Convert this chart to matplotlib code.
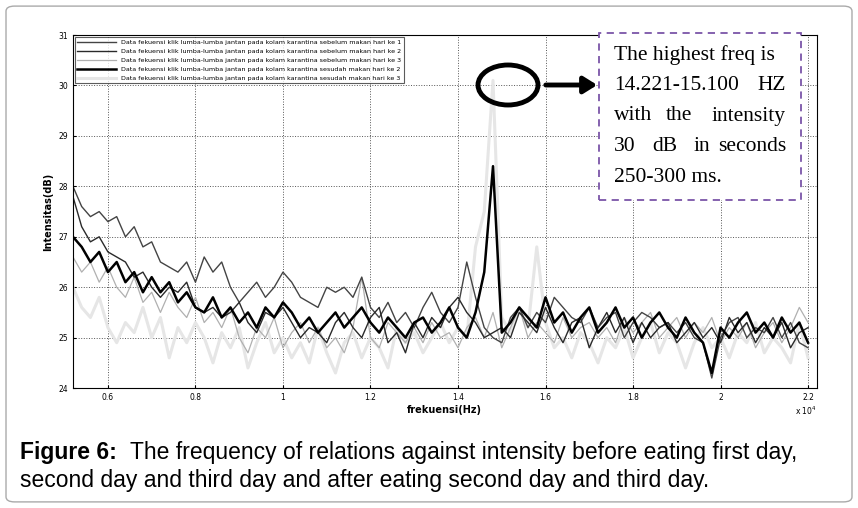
import numpy as np
import matplotlib
matplotlib.use("Agg")
import matplotlib.pyplot as plt
from matplotlib.patches import Ellipse, FancyBboxPatch, Rectangle

# frequency axis (x 10^4 Hz), step 0.02
freq = np.round(np.arange(0.52, 2.2001, 0.02), 2)

sebelum1 = [28.0,27.6,27.4,27.5,27.3,27.4,27.0,27.2,26.8,26.9,
            26.5,26.4,26.3,26.5,26.1,26.6,26.3,26.5,26.0,25.7,
            25.9,26.1,25.8,26.0,26.3,26.1,25.8,25.7,25.6,26.0,
            25.9,26.0,25.8,26.2,25.6,25.4,25.7,25.3,25.5,25.2,
            25.6,25.9,25.5,25.3,25.6,26.5,25.8,25.2,25.0,24.9,
            25.4,25.6,25.2,25.5,25.3,25.8,25.6,25.4,25.3,25.6,
            25.2,25.4,25.5,25.0,25.3,25.5,25.4,25.2,25.3,25.1,
            25.3,25.0,24.9,24.2,25.0,25.3,25.4,25.0,25.2,25.1,
            25.4,25.0,25.3,24.9,24.8]
sebelum2 = [27.8,27.2,26.9,27.0,26.7,26.6,26.5,26.2,26.3,26.0,
            25.8,26.0,25.9,26.1,25.6,25.5,25.6,25.4,25.5,25.7,
            25.3,25.1,25.5,25.4,25.6,25.3,25.0,25.2,25.1,24.9,
            25.3,25.5,25.2,25.0,25.4,25.6,24.9,25.1,24.7,25.3,
            25.0,25.4,25.2,25.6,25.8,25.5,25.3,25.0,25.1,25.2,
            25.0,25.5,25.3,25.1,25.6,25.2,24.9,25.3,25.4,24.8,
            25.2,25.5,25.1,25.4,24.9,25.3,25.0,25.2,25.3,24.9,
            25.1,25.3,25.0,25.2,24.9,25.4,25.1,25.3,24.9,25.2,
            25.0,25.3,24.8,25.1,25.2]
sebelum3 = [26.6,26.3,26.5,26.1,26.4,26.0,25.8,26.2,25.7,25.9,
            25.5,25.9,25.6,25.4,25.8,25.3,25.5,25.2,25.6,25.0,
            24.7,25.2,25.0,25.4,24.8,25.1,25.3,24.9,25.2,24.8,
            25.0,24.7,25.2,26.2,25.0,24.8,25.3,25.1,24.9,25.2,
            24.9,25.3,25.0,25.1,24.8,25.2,25.4,25.0,25.5,24.8,
            25.2,25.6,25.0,25.3,25.1,24.9,25.4,25.0,25.2,25.3,
            25.0,25.2,24.9,25.4,25.1,25.3,25.5,25.0,25.2,25.4,
            25.0,25.3,25.1,25.4,24.9,25.2,25.0,25.3,24.8,25.1,
            25.3,24.9,25.2,25.6,25.3]
sesudah2 = [27.0,26.8,26.5,26.7,26.3,26.5,26.1,26.3,25.9,26.2,
            25.9,26.1,25.7,25.9,25.6,25.5,25.8,25.4,25.6,25.3,
            25.5,25.2,25.6,25.4,25.7,25.5,25.2,25.4,25.1,25.3,
            25.5,25.2,25.4,25.6,25.3,25.1,25.4,25.2,25.0,25.3,
            25.4,25.1,25.3,25.6,25.2,25.0,25.5,26.3,28.4,25.1,
            25.3,25.6,25.4,25.2,25.8,25.3,25.5,25.1,25.4,25.6,
            25.1,25.3,25.6,25.2,25.4,25.0,25.3,25.5,25.2,25.0,
            25.4,25.1,24.9,24.3,25.2,25.0,25.3,25.5,25.1,25.3,
            25.0,25.4,25.1,25.3,24.9]
sesudah3 = [26.0,25.6,25.4,25.8,25.2,24.9,25.3,25.1,25.6,25.0,
            25.4,24.6,25.2,24.9,25.3,25.0,24.5,25.1,24.8,25.2,
            24.4,24.9,25.3,24.7,25.0,24.6,24.9,24.5,25.2,24.7,
            24.3,24.9,25.1,24.6,25.0,24.8,24.4,25.2,24.9,25.1,
            24.7,25.0,25.3,24.9,25.2,25.0,26.8,27.5,30.1,25.4,
            25.1,25.6,25.2,26.8,25.3,24.8,25.0,24.6,25.1,24.9,
            24.5,25.0,24.8,25.2,24.6,25.0,25.3,24.7,25.1,24.9,
            24.4,24.9,25.2,24.8,25.0,24.6,25.1,24.9,25.3,24.7,
            25.0,24.8,24.5,25.3,24.6]

labels = ["Data fekuensi klik lumba-lumba jantan pada kolam karantina sebelum makan hari ke 1",
          "Data fekuensi klik lumba-lumba jantan pada kolam karantina sebelum makan hari ke 2",
          "Data fekuensi klik lumba-lumba jantan pada kolam karantina sebelum makan hari ke 3",
          "Data fekuensi klik lumba-lumba jantan pada kolam karantina sesudah makan hari ke 2",
          "Data fekuensi klik lumba-lumba jantan pada kolam karantina sesudah makan hari ke 3"]
series = [sebelum1, sebelum2, sebelum3, sesudah2, sesudah3]
colors = ["#444444", "#2a2a2a", "#b0b0b0", "#000000", "#e6e6e6"]
widths = [1.0, 1.0, 0.9, 1.8, 2.2]

fig = plt.figure(figsize=(8.58, 5.08), dpi=100)
fig.patches.append(FancyBboxPatch((0.007, 0.012), 0.986, 0.976, boxstyle="round,pad=0,rounding_size=0.01",
                                  transform=fig.transFigure, fill=False, ec="#aaaaaa", lw=1))

ax = fig.add_axes([0.085, 0.236, 0.867, 0.695])
order = [4, 2, 0, 1, 3]
lines = {}
for i in order:
    lines[i], = ax.plot(freq, series[i], color=colors[i], lw=widths[i], label=labels[i])
leg = ax.legend([lines[i] for i in range(5)], labels, loc="upper left", fontsize=4.6,
                frameon=True, fancybox=False, edgecolor="#333333", handlelength=6,
                borderaxespad=0.3, labelspacing=0.55)
leg.get_frame().set_linewidth(0.8)
ax.set_xlim(0.52, 2.22)
ax.set_ylim(24, 31)
ax.set_xticks([0.6, 0.8, 1, 1.2, 1.4, 1.6, 1.8, 2, 2.2])
ax.set_xticklabels(["0.6", "0.8", "1", "1.2", "1.4", "1.6", "1.8", "2", "2.2"])
ax.set_yticks(range(24, 32))
ax.tick_params(labelsize=5.5, length=2, direction="in")
ax.grid(ls=":", color="#555555", lw=0.7)
ax.set_xlabel("frekuensi(Hz)", fontsize=7, fontweight="bold", labelpad=2)
ax.set_ylabel("Intensitas(dB)", fontsize=7, fontweight="bold", labelpad=4)
ax.text(1.0, -0.075, r"x 10$^4$", transform=ax.transAxes, fontsize=5.5, ha="right")

# annotation: ellipse + arrow + dashed text box (figure pixel coords)
W, H = 858, 508
def fx(px): return px / W
def fy(py): return 1 - py / H
fig.patches.append(Ellipse((fx(508), fy(85)), fx(60), 40 / H, transform=fig.transFigure,
                           fill=False, ec="black", lw=3.5))
fig.add_artist(plt.Annotation("", xy=(fx(600), fy(85)), xytext=(fx(543), fy(85)),
                              xycoords="figure fraction", textcoords="figure fraction",
                              arrowprops=dict(arrowstyle="-|>,head_width=0.5,head_length=0.8",
                                              lw=3.5, color="black")))
fig.patches.append(Rectangle((fx(599), fy(200)), fx(202), 167 / H, transform=fig.transFigure,
                             fc="white", ec="#7b55a8", lw=1.3, ls=(0, (4, 3))))
# words of each justified line with their left pixel (last word right-aligned at 786)
box_lines = [["The highest freq is"], ["14.221-15.100", "HZ"], ["with", "the", "intensity"],
             ["30", "dB", "in", "seconds"], ["250-300 ms."]]
box_pos = [[614], [614], [614, 666], [614, 652, 694], [614]]
for k, words in enumerate(box_lines):
    y = fy(55 + k * 30.5)
    if len(words) == 1:
        fig.text(fx(614), y, words[0], fontsize=15.5, family="Liberation Serif", va="center")
        continue
    for w, px in zip(words[:-1], box_pos[k]):
        fig.text(fx(px), y, w, fontsize=15.5, family="Liberation Serif", va="center")
    fig.text(fx(786), y, words[-1], fontsize=15.5, family="Liberation Serif", va="center", ha="right")

# caption
fig.text(fx(20), fy(452), "Figure 6:", fontsize=16.5, fontweight="bold", family="Liberation Sans", va="center")
fig.text(fx(130), fy(452), "The frequency of relations against intensity before eating first day,",
         fontsize=16.5, family="Liberation Sans", va="center")
fig.text(fx(20), fy(481), "second day and third day and after eating second day and third day.",
         fontsize=16.5, family="Liberation Sans", va="center")

fig.savefig("out.png", dpi=100)
